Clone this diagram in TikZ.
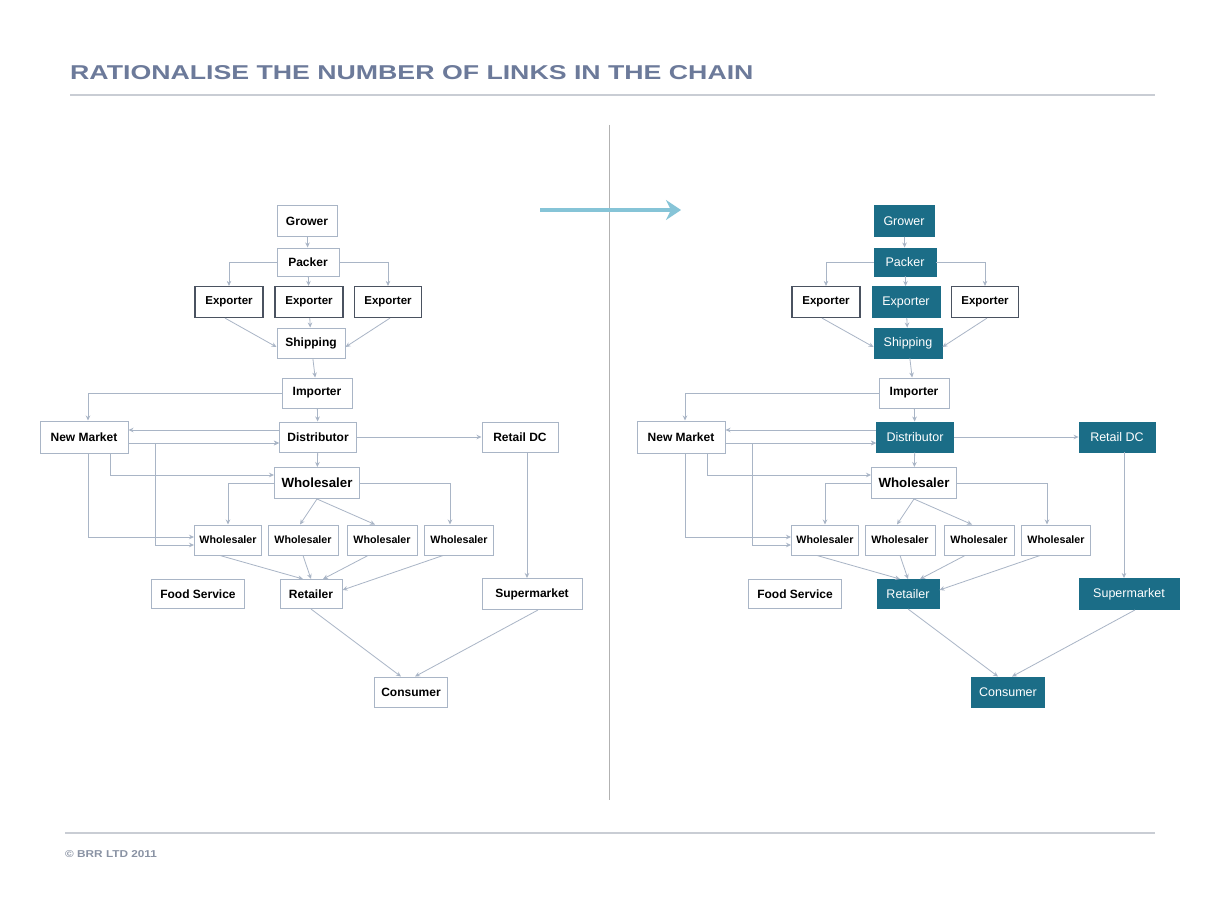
\documentclass[tikz,border=0pt]{standalone}
\usepackage{fontspec}
\setmainfont{Liberation Sans}
\usetikzlibrary{arrows.meta}
\definecolor{tealc}{HTML}{1B6D87}
\definecolor{boxc}{HTML}{A9B5C6}
\definecolor{expc}{HTML}{4A5260}
\definecolor{linec}{HTML}{A9B5C6}
\definecolor{titlec}{HTML}{6C7A9A}
\definecolor{rulec}{HTML}{C9CDD4}
\definecolor{footc}{HTML}{8A93A4}
\definecolor{bigarrc}{HTML}{86C4D7}
\tikzset{
  box/.style={draw=boxc, line width=1pt, fill=white, inner sep=0pt, text=black,
    font=\bfseries\fontsize{12}{12}\selectfont},
  expbox/.style={box, draw=expc, line width=1.2pt, font=\bfseries\fontsize{11.5}{12}\selectfont},
  smallbox/.style={box, font=\bfseries\fontsize{10.7}{11}\selectfont},
  bigbox/.style={box, font=\bfseries\fontsize{13.3}{14}\selectfont},
  tbox/.style={draw=tealc, fill=tealc, line width=0.9pt, inner sep=0pt, text=white,
    font=\fontsize{12.5}{13}\selectfont},
  arr/.style={draw=linec, line width=0.8pt, -{Stealth[length=5pt,width=4.5pt]}},
  arrboth/.style={draw=linec, line width=0.8pt, {Stealth[length=5pt,width=4.5pt]}-{Stealth[length=5pt,width=4.5pt]}},
  sG/.style={box}, sP/.style={box}, sEM/.style={expbox}, sS/.style={box},
  sD/.style={box}, sRDC/.style={box}, sR/.style={box}, sSM/.style={box}, sC/.style={box}
}
\newcommand{\drawchain}[1]{%
  \node[sG, minimum width=60pt, minimum height=31pt] (#1G) at (307,221) {Grower};
  \node[sP, minimum width=62pt, minimum height=28pt] (#1P) at (308,262) {Packer};
  \node[expbox, minimum width=68pt, minimum height=31pt] (#1EL) at (229,302) {Exporter};
  \node[sEM, minimum width=68pt, minimum height=31pt] (#1EM) at (309,302) {Exporter};
  \node[expbox, minimum width=67pt, minimum height=31pt] (#1ER) at (388,302) {Exporter};
  \node[sS, minimum width=68pt, minimum height=30pt] (#1S) at (311,343) {Shipping};
  \node[box, minimum width=70pt, minimum height=30pt] (#1I) at (317,393) {Importer};
  \node[box, minimum width=88pt, minimum height=32pt] (#1NM) at (84,437) {New Market};
  \node[sD, minimum width=77pt, minimum height=30pt] (#1D) at (318,437) {Distributor};
  \node[sRDC, minimum width=76pt, minimum height=30pt] (#1RDC) at (520,437) {Retail DC};
  \node[bigbox, minimum width=85pt, minimum height=31pt] (#1W) at (317,483) {Wholesaler};
  \node[smallbox, minimum width=67pt, minimum height=30pt] (#1Wa) at (228,540) {Wholesaler};
  \node[smallbox, minimum width=70pt, minimum height=30pt] (#1Wb) at (303,540) {Wholesaler};
  \node[smallbox, minimum width=70pt, minimum height=30pt] (#1Wc) at (382,540) {Wholesaler};
  \node[smallbox, minimum width=69pt, minimum height=30pt] (#1Wd) at (459,540) {Wholesaler};
  \node[box, minimum width=93pt, minimum height=29pt] (#1FS) at (198,594) {Food Service};
  \node[sR, minimum width=62pt, minimum height=29pt] (#1R) at (311,594) {Retailer};
  \node[sSM, minimum width=100pt, minimum height=31pt] (#1SM) at (532,594) {Supermarket};
  \node[sC, minimum width=73pt, minimum height=30pt] (#1C) at (411,692) {Consumer};
  % connectors
  \draw[arr] (#1G) -- (#1P);
  \draw[arr] (#1P.west) -| (#1EL.north);
  \draw[arr] (#1P) -- (#1EM);
  \draw[arr] (#1P.east) -| (#1ER.north);
  \draw[arr] ([xshift=-4pt]#1EL.south) -- ([yshift=-4pt]#1S.west);
  \draw[arr] (#1EM) -- (#1S);
  \draw[arr] ([xshift=2pt]#1ER.south) -- ([yshift=-4pt]#1S.east);
  \draw[arr] (#1S) -- (#1I);
  \draw[arr] (#1I.west) -| ([xshift=4pt]#1NM.north);
  \draw[arr] (#1I) -- (#1D);
  \draw[arr] ([yshift=7pt]#1D.west) -- ([yshift=7pt]#1NM.east);
  \draw[arr] ([yshift=-6pt]#1NM.east) -- ([yshift=-6pt]#1D.west);
  \draw[arrboth] ([yshift=-6pt]#1D.west) -| (155,545) -- ([yshift=-5pt]#1Wa.west);
  \draw[arr] ([xshift=26pt]#1NM.south) |- ([yshift=8pt]#1W.west);
  \draw[arr] ([xshift=4pt]#1NM.south) |- ([yshift=3pt]#1Wa.west);
  \draw[arr] (#1D) -- (#1W);
  \draw[arr] (#1D) -- (#1RDC);
  \draw[arr] (#1W.west) -| (#1Wa.north);
  \draw[arr] (#1W.south) -- ([xshift=-3pt]#1Wb.north);
  \draw[arr] (#1W.south) -- ([xshift=-7pt]#1Wc.north);
  \draw[arr] (#1W.east) -| ([xshift=-9pt]#1Wd.north);
  \draw[arr] ([xshift=-8pt]#1Wa.south) -- ([xshift=-8pt]#1R.north);
  \draw[arr] (#1Wb.south) -- (#1R.north);
  \draw[arr] ([xshift=-14pt]#1Wc.south) -- ([xshift=12pt]#1R.north);
  \draw[arr] ([xshift=-16pt]#1Wd.south) -- ([yshift=4pt]#1R.east);
  \draw[arr] ([xshift=7pt]#1RDC.south) -- ([xshift=-5pt]#1SM.north);
  \draw[arr] (#1R.south) -- ([xshift=-10pt]#1C.north);
  \draw[arr] ([xshift=6pt]#1SM.south) -- ([xshift=4pt]#1C.north);
}
\begin{document}
\begin{tikzpicture}[x=1pt, y=-1pt]
\useasboundingbox[fill=white] (0,0) rectangle (1209,904);
% title
\node[anchor=base west, inner sep=0pt, text=titlec, font=\bfseries\fontsize{20}{20}\selectfont] (title) at (70,80)
  {\scalebox{1.335}[1]{RATIONALISE THE NUMBER OF LINKS IN THE CHAIN}};
\coordinate (tl1) at (70,95); \coordinate (tl2) at (1155,95);
\draw[rulec, line width=1.3pt] (tl1) -- (tl2);
% divider
\coordinate (dv1) at (609,125); \coordinate (dv2) at (609,800);
\draw[gray!60, line width=0.8pt] (dv1) -- (dv2);
% big arrow
\coordinate (ba1) at (540,210); \coordinate (ba2) at (681,210);
\draw[bigarrc, line width=4pt, -{Stealth[length=15pt,width=20pt,inset=5pt]}] (ba1) -- (ba2);
% footer
\coordinate (fl1) at (65,833); \coordinate (fl2) at (1155,833);
\draw[rulec, line width=1.2pt] (fl1) -- (fl2);
\node[anchor=base west, inner sep=0pt, text=footc, font=\bfseries\fontsize{10}{10}\selectfont] (foot) at (65,857)
  {\scalebox{1.18}[1]{\textcopyright\ BRR LTD 2011}};
% left chain
\drawchain{L}
% right chain
\begin{scope}[xshift=597pt,
  sG/.style={tbox}, sP/.style={tbox}, sEM/.style={tbox}, sS/.style={tbox},
  sD/.style={tbox}, sRDC/.style={tbox}, sR/.style={tbox}, sSM/.style={tbox}, sC/.style={tbox}]
\drawchain{R}
\end{scope}
\end{tikzpicture}
\end{document}
